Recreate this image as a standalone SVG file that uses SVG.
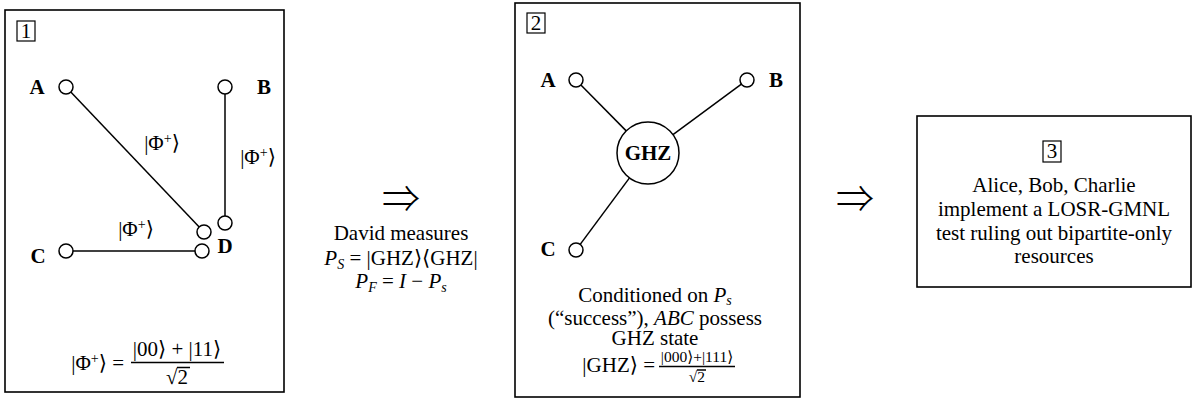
<svg xmlns="http://www.w3.org/2000/svg" width="1193" height="399" viewBox="0 0 1193 399">
<style>
.box{fill:none;stroke:#000;stroke-width:1.6}
.lbl{fill:none;stroke:#000;stroke-width:1.2}
.nd{fill:#fff;stroke:#000;stroke-width:1.5}
.ln{stroke:#000;stroke-width:1.5;fill:none}
.t{font-family:'Liberation Serif','DejaVu Serif',serif;font-size:21px;fill:#000;text-anchor:middle}
.s{font-size:15.5px}
.e{text-anchor:end}
.b{font-family:'Liberation Serif','DejaVu Serif',serif;font-size:21px;font-weight:bold;fill:#000;text-anchor:middle}
.i{font-style:italic}
.arr{font-family:'Noto Sans CJK JP','DejaVu Sans',sans-serif;font-size:38px;font-weight:300;fill:#000;text-anchor:middle}
</style>
<rect width="1193" height="399" fill="#fff"/>
<g id="panel1">
<rect class="box" x="5" y="10" width="279" height="382"/>
<rect class="lbl" x="17" y="21" width="18" height="20"/>
<text class="t" x="26" y="38">1</text>
<text class="t e" x="124" y="370">|Φ<tspan dy="-7" font-size="14">+</tspan><tspan dy="7">⟩ =</tspan></text>
<text class="t" x="177" y="356">|00⟩ + |11⟩</text>
<line class="ln" x1="131" y1="362.5" x2="224" y2="362.5" stroke-width="1"/>
<text class="t" x="177" y="384">√2</text>
<line class="ln" x1="177" y1="367.5" x2="190" y2="367.5" stroke-width="1"/>
</g>
<g id="nodeA1"><circle class="nd" cx="66" cy="87" r="7"/><text class="b" x="37" y="94">A</text></g>
<g id="nodeB1"><circle class="nd" cx="225" cy="87" r="7"/><text class="b" x="264" y="94">B</text></g>
<g id="nodeC1"><circle class="nd" cx="66" cy="251" r="7"/><text class="b" x="38" y="263">C</text></g>
<g id="nodeD1">
<circle class="nd" cx="204" cy="232" r="7"/>
<circle class="nd" cx="225" cy="223" r="7"/>
<circle class="nd" cx="202" cy="251" r="7"/>
<text class="b" x="225" y="253">D</text>
</g>
<g id="connectors">
<line class="ln" x1="70.8" y1="92.1" x2="199.2" y2="226.9"/>
<line class="ln" x1="225" y1="94" x2="225" y2="216"/>
<line class="ln" x1="73" y1="251" x2="195" y2="251"/>
<line class="ln" x1="580.9" y1="85" x2="626.2" y2="130.9"/>
<line class="ln" x1="741.4" y1="84.2" x2="673" y2="134.6"/>
<line class="ln" x1="629.5" y1="177.9" x2="580.2" y2="244.4"/>
<text class="t" x="162" y="150">|Φ<tspan dy="-7" font-size="14">+</tspan><tspan dy="7">⟩</tspan></text>
<text class="t" x="258" y="164">|Φ<tspan dy="-7" font-size="14">+</tspan><tspan dy="7">⟩</tspan></text>
<text class="t" x="136" y="236">|Φ<tspan dy="-7" font-size="14">+</tspan><tspan dy="7">⟩</tspan></text>
</g>
<g id="step1">
<text class="arr" x="401" y="212">⇒</text>
<text class="t" x="401" y="240">David measures</text>
<text class="t" x="401" y="265"><tspan class="i">P</tspan><tspan class="i" dy="4" font-size="14">S</tspan><tspan dy="-4"> = |GHZ⟩⟨GHZ|</tspan></text>
<text class="t" x="401" y="288"><tspan class="i">P</tspan><tspan class="i" dy="4" font-size="14">F</tspan><tspan dy="-4"> = </tspan><tspan class="i">I</tspan><tspan> − </tspan><tspan class="i">P</tspan><tspan class="i" dy="4" font-size="14">s</tspan></text>
</g>
<g id="panel2">
<rect class="box" x="515" y="3" width="285" height="394"/>
<rect class="lbl" x="527" y="13" width="18" height="20"/>
<text class="t" x="536" y="30">2</text>
<text class="t" x="655" y="302">Conditioned on <tspan class="i">P</tspan><tspan class="i" dy="3" font-size="14">s</tspan></text>
<text class="t" x="655" y="325">(“success”), <tspan class="i">ABC</tspan> possess</text>
<text class="t" x="655" y="345">GHZ state</text>
<text class="t e" x="655" y="372">|GHZ⟩ =</text>
<text class="t s" x="697" y="362">|000⟩+|111⟩</text>
<line class="ln" x1="659" y1="366.5" x2="735" y2="366.5" stroke-width="1"/>
<text class="t s" x="697" y="382">√2</text>
<line class="ln" x1="697" y1="370" x2="706" y2="370" stroke-width="0.8"/>
</g>
<g id="nodeA2"><circle class="nd" cx="576" cy="80" r="7"/><text class="b" x="548" y="87">A</text></g>
<g id="nodeB2"><circle class="nd" cx="747" cy="80" r="7"/><text class="b" x="776" y="87">B</text></g>
<g id="nodeC2"><circle class="nd" cx="576" cy="250" r="7"/><text class="b" x="548" y="256">C</text></g>
<g id="nodeGHZ"><circle class="nd" cx="648" cy="153" r="31"/><text class="b" x="648" y="160">GHZ</text></g>
<g id="step2"><text class="arr" x="855" y="212">⇒</text></g>
<g id="panel3">
<rect class="box" x="917" y="116" width="274" height="171"/>
<rect class="lbl" x="1043" y="141" width="18" height="21"/>
<text class="t" x="1052" y="158">3</text>
<text class="t" x="1054" y="192">Alice, Bob, Charlie</text>
<text class="t" x="1054" y="216">implement a LOSR-GMNL</text>
<text class="t" x="1054" y="240">test ruling out bipartite-only</text>
<text class="t" x="1054" y="263">resources</text>
</g>
</svg>
